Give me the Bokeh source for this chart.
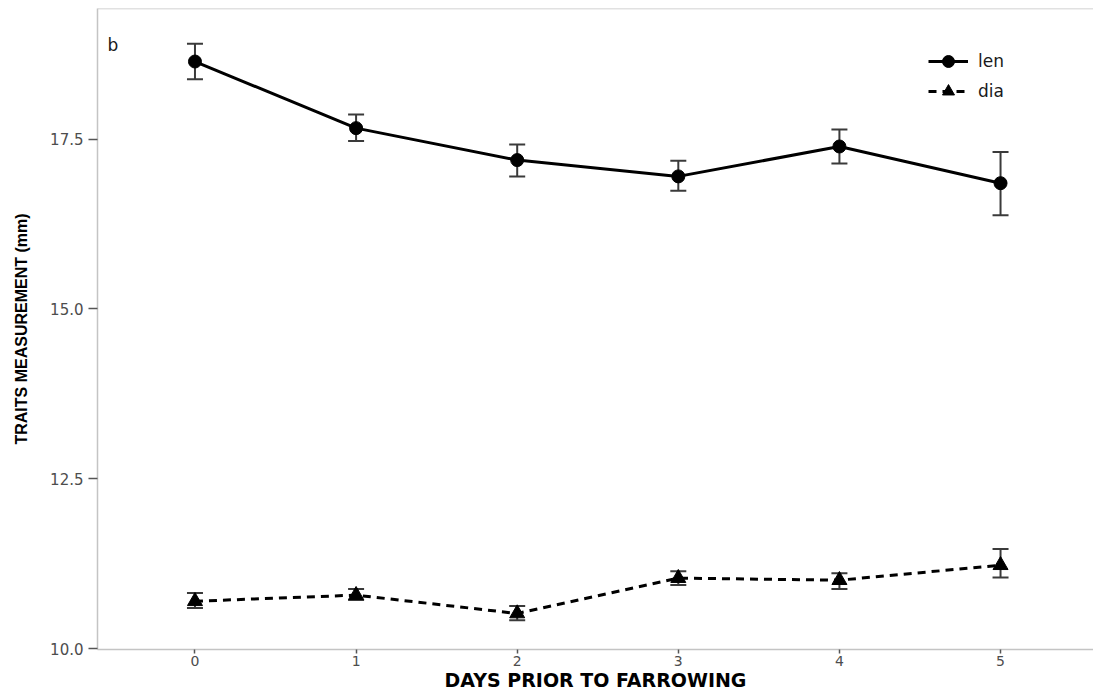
from bokeh.plotting import figure
from bokeh.models import (Range1d, Whisker, ColumnDataSource, Legend, LegendItem,
                          Span, Label, FixedTicker, TeeHead)
from bokeh.embed import file_html
from bokeh.resources import INLINE

days = [0, 1, 2, 3, 4, 5]
tick_labels = ["0", "1", "2", "3", "4", "5"]
y_ticks = [10.0, 12.5, 15.0, 17.5]

len_mean = [18.64, 17.66, 17.19, 16.95, 17.39, 16.85]
len_lower = [18.38, 17.47, 16.95, 16.74, 17.14, 16.38]
len_upper = [18.90, 17.86, 17.42, 17.18, 17.64, 17.31]

dia_mean = [10.70, 10.79, 10.52, 11.04, 11.01, 11.23]
dia_lower = [10.60, 10.72, 10.42, 10.94, 10.88, 11.05]
dia_upper = [10.82, 10.88, 10.63, 11.14, 11.11, 11.47]

src_len = ColumnDataSource(dict(x=days, y=len_mean, lo=len_lower, hi=len_upper))
src_dia = ColumnDataSource(dict(x=days, y=dia_mean, lo=dia_lower, hi=dia_upper))

p = figure(width=1093, height=693, output_backend="svg", toolbar_location=None,
           x_range=Range1d(-0.605, 5.577), y_range=Range1d(9.99, 19.42),
           min_border_left=97, min_border_right=0, min_border_top=8, min_border_bottom=44,
           background_fill_color="white", border_fill_color="white")
p.outline_line_color = None
p.grid.visible = False

frame_col = "#c4c4c4"
tick_col = "#555555"
label_col = "#4d4d4d"

# axes
p.xaxis.ticker = FixedTicker(ticks=days)
p.xaxis.major_label_overrides = {d: t for d, t in zip(days, tick_labels)}
p.yaxis.ticker = FixedTicker(ticks=y_ticks)
p.yaxis.major_label_overrides = {v: f"{v:.1f}" for v in y_ticks}
for ax in (p.xaxis, p.yaxis):
    ax.axis_line_color = frame_col
    ax.axis_line_width = 1.5
    ax.major_tick_line_color = tick_col
    ax.major_tick_line_width = 1.5
    ax.major_tick_in = 0
    ax.minor_tick_line_color = None
    ax.major_label_text_color = label_col
    ax.major_label_text_font = "DejaVu Sans"
    ax.axis_label_text_color = "black"
    ax.axis_label_text_font_style = "bold"
p.yaxis.major_label_text_font_size = "15px"
p.xaxis.major_label_text_font_size = "14px"
p.xaxis.major_tick_out = 4
p.yaxis.major_tick_out = 9
p.xaxis.major_label_standoff = 2
p.yaxis.major_label_standoff = 5
p.xaxis.axis_label = "DAYS PRIOR TO FARROWING"
p.xaxis.axis_label_text_font = "DejaVu Sans"
p.xaxis.axis_label_text_font_size = "19px"
p.xaxis.axis_label_standoff = 0
p.yaxis.axis_label = "TRAITS MEASUREMENT (mm)"
p.yaxis.axis_label_text_font = "Liberation Sans"
p.yaxis.axis_label_text_font_size = "16px"
p.yaxis.axis_label_standoff = 17

p.add_layout(Span(location=19.42, dimension="width", line_color=frame_col, line_width=1.5))

# error bars
for src in (src_len, src_dia):
    w = Whisker(source=src, base="x", lower="lo", upper="hi",
                line_color="#3a3a3a", line_width=2,
                upper_head=TeeHead(size=16, line_color="#3a3a3a", line_width=2),
                lower_head=TeeHead(size=16, line_color="#3a3a3a", line_width=2))
    p.add_layout(w)

l1 = p.line("x", "y", source=src_len, line_color="black", line_width=3)
m1 = p.scatter("x", "y", source=src_len, marker="circle", size=13, color="black")
l2 = p.line("x", "y", source=src_dia, line_color="black", line_width=3, line_dash="8 6")
m2 = p.scatter("x", "y", source=src_dia, marker="triangle", size=15, color="black")

legend = Legend(items=[LegendItem(label="len", renderers=[l1, m1]),
                       LegendItem(label="dia", renderers=[l2, m2])],
                location=(831, 543), orientation="vertical",
                border_line_color=None, background_fill_alpha=0,
                glyph_width=40, glyph_height=30, label_height=30,
                spacing=0, padding=0, margin=0, label_standoff=10,
                label_text_font="DejaVu Sans", label_text_font_size="17px",
                label_text_color="#1a1a1a")
p.add_layout(legend)

p.add_layout(Label(x=-0.543, y=18.886, text="b", text_font="DejaVu Sans",
                   text_font_size="17px", text_color="#1a1a1a", text_align="left",
                   text_baseline="alphabetic"))

open("out.html", "w").write(file_html(p, INLINE))
